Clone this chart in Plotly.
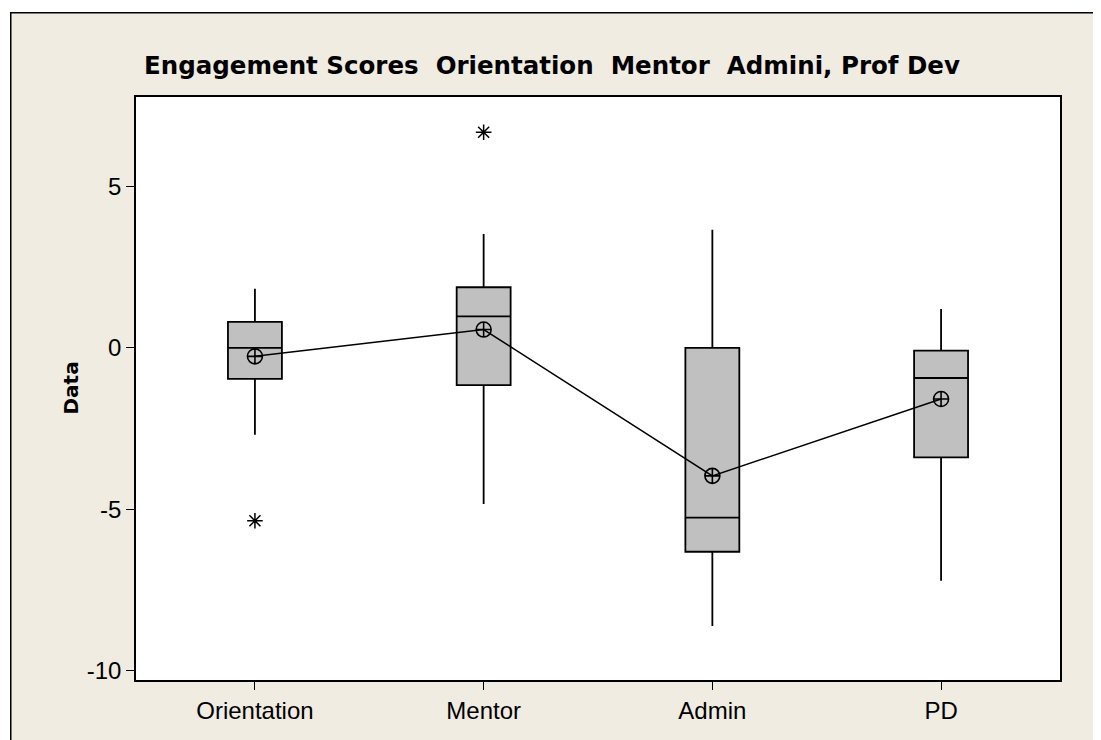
import plotly.graph_objects as go

categories = ["Orientation", "Mentor", "Admin", "PD"]
q1 = [-0.96, -1.15, -6.31, -3.39]
median = [0.0, 0.98, -5.25, -0.93]
q3 = [0.81, 1.88, 0.0, -0.08]
lower_whisker = [-2.69, -4.83, -8.61, -7.21]
upper_whisker = [1.83, 3.53, 3.66, 1.21]
means = [-0.26, 0.57, -3.96, -1.58]
outlier_cats = ["Orientation", "Mentor"]
outlier_vals = [-5.35, 6.68]

title_text = "Engagement Scores  Orientation  Mentor  Admini, Prof Dev"
y_ticks = [-10, -5, 0, 5]
y_ticktext = ["-10", "-5", "0", "5"]

BG = "#F0ECE2"
FONT = "DejaVu Sans"
TICKFONT = "Liberation Sans"

# plot-area geometry (pixels of the figure; page adds an 8px body margin)
W, H = 1093, 732
ML, MR, MT, MB = 128, 41, 89, 60
PW, PH = W - ML - MR, H - MT - MB

def px_x(p):  # figure pixel -> paper x
    return (p - ML) / PW

def px_y(p):  # figure pixel (from top) -> paper y
    return (H - MB - p) / PH

fig = go.Figure()
fig.add_trace(go.Box(
    x=categories, q1=q1, median=median, q3=q3,
    lowerfence=lower_whisker, upperfence=upper_whisker,
    boxpoints=False, fillcolor="#C0C0C0",
    line=dict(color="black", width=1.8), whiskerwidth=0,
    showlegend=False, hoverinfo="skip",
))
fig.add_trace(go.Scatter(
    x=categories, y=means, mode="lines+markers",
    line=dict(color="black", width=1.5),
    marker=dict(symbol="circle-cross-open", size=15, color="black", line=dict(width=1.6, color="black")),
    showlegend=False,
))
fig.add_trace(go.Scatter(
    x=outlier_cats, y=outlier_vals, mode="markers",
    marker=dict(symbol="asterisk-open", size=13, color="black", line=dict(width=1.5, color="black")),
    showlegend=False,
))

# beige graph window; the frame is its left and top border
fx, fy = px_x(2), px_y(4)
fig.add_shape(type="rect", xref="paper", yref="paper",
              x0=fx, x1=px_x(W), y0=px_y(H), y1=fy,
              fillcolor=BG, line=dict(width=0), layer="below")
fig.add_shape(type="rect", xref="paper", yref="paper",
              x0=fx, x1=px_x(W), y0=fy - 1.5 / PH, y1=fy,
              fillcolor="black", line=dict(width=0), layer="below")
fig.add_shape(type="rect", xref="paper", yref="paper",
              x0=fx, x1=fx + 1.5 / PW, y0=px_y(H), y1=fy,
              fillcolor="black", line=dict(width=0), layer="below")
fig.add_shape(type="rect", xref="paper", yref="paper",
              x0=0, x1=1, y0=0, y1=1,
              fillcolor="white", line=dict(width=0), layer="below")

fig.add_annotation(text="<b>Data</b>", xref="paper", yref="paper",
                   x=px_x(62), y=0.5, textangle=-90, showarrow=False,
                   xanchor="center", yanchor="middle",
                   font=dict(family=FONT, size=20, color="black"))

fig.update_layout(
    width=W, height=H,
    margin=dict(l=ML, r=MR, t=MT, b=MB),
    paper_bgcolor="white", plot_bgcolor="white",
    boxgap=0.663,
    font=dict(family=TICKFONT, color="black", size=24),
    title=dict(text="<b>" + title_text + "</b>", x=px_x(544), xref="paper", xanchor="center",
               y=1 - 57 / H, yanchor="middle",
               font=dict(family=FONT, size=24.5, color="black")),
    xaxis=dict(categoryorder="array", categoryarray=categories,
               range=[-0.52, 3.52], showline=True, linecolor="black", linewidth=1.5,
               mirror=True, ticks="outside", ticklen=8, tickcolor="black", tickwidth=1.3,
               showgrid=False, zeroline=False, tickfont=dict(size=24)),
    yaxis=dict(range=[-10.28, 7.77], tickvals=y_ticks, ticktext=y_ticktext, showline=True,
               linecolor="black", linewidth=1.5, mirror=True, ticks="outside", ticklen=8,
               tickcolor="black", tickwidth=1.3, showgrid=False, zeroline=False,
               tickfont=dict(size=24)),
)

fig.write_html("out.html")
